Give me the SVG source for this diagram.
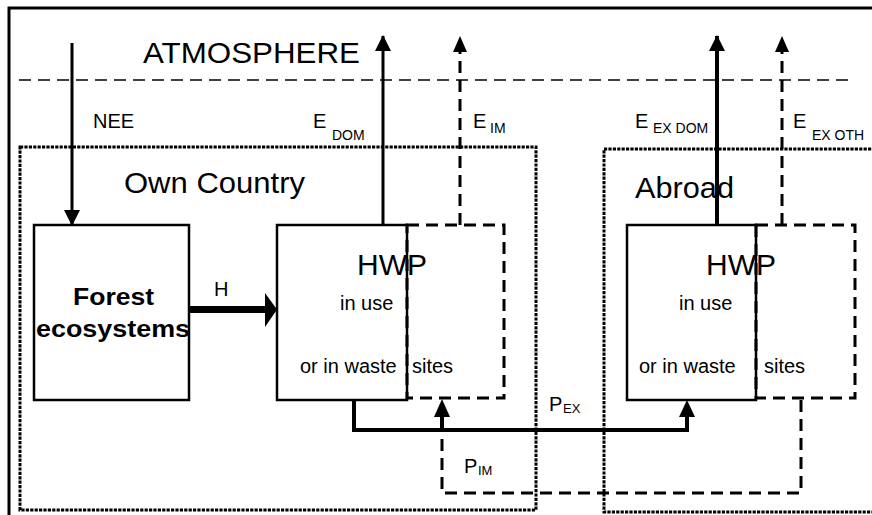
<svg xmlns="http://www.w3.org/2000/svg" width="872" height="515" viewBox="0 0 872 515">
<style>
text{font-family:"Liberation Sans",Arial,sans-serif;fill:#000}
.big{font-size:30px}
.lbl{font-size:20px}
.sub{font-size:14px}
.sub2{font-size:13px}
.box{fill:#fff;stroke:#000;stroke-width:2.5}
.dash{fill:none;stroke:#000;stroke-width:3;stroke-dasharray:12 7}
.dot{fill:none;stroke:#000;stroke-width:3;stroke-dasharray:3.2 1.2}
.atm{fill:none;stroke:#000;stroke-width:1.5;stroke-dasharray:12 7}
.ln{fill:none;stroke:#000;stroke-width:3}
</style>
<defs>
<marker id="ah" markerWidth="16" markerHeight="16" viewBox="0 0 16 16" refX="15" refY="8" orient="auto" markerUnits="userSpaceOnUse">
<path d="M0,0 L16,8 L0,16 Z" fill="#000"/>
</marker>
</defs>
<rect width="872" height="515" fill="#fff"/>
<g id="frame">
<path d="M9,515 L9,8 L872,8" fill="none" stroke="#000" stroke-width="3"/>
<line class="atm" x1="19" y1="80" x2="848" y2="80"/>
<text class="big" x="143" y="63" textLength="217" lengthAdjust="spacingAndGlyphs">ATMOSPHERE</text>
</g>
<g id="own-country">
<rect class="dot" x="20" y="147" width="516" height="363"/>
<text class="big" x="124" y="193" textLength="181" lengthAdjust="spacingAndGlyphs">Own Country</text>
</g>
<g id="abroad">
<path class="dot" d="M880,149 L604,149 L604,512 L880,512"/>
<text class="big" x="635" y="198" textLength="99" lengthAdjust="spacingAndGlyphs">Abroad</text>
</g>
<g id="forest">
<rect class="box" x="34" y="225" width="155" height="175"/>
<text x="73" y="305" font-size="23" font-weight="bold" textLength="81" lengthAdjust="spacingAndGlyphs">Forest</text>
<text x="36" y="337" font-size="23" font-weight="bold" textLength="154" lengthAdjust="spacingAndGlyphs">ecosystems</text>
</g>
<g id="hwp-own">
<rect class="box" x="277" y="225" width="130" height="175"/>
<rect class="dash" x="407" y="225" width="97" height="173"/>
<text class="big" x="357" y="275">HWP</text>
<text class="lbl" x="340" y="310">in use</text>
<text class="lbl" x="300" y="373">or in waste</text>
<text class="lbl" x="412" y="373">sites</text>
</g>
<g id="hwp-abroad">
<rect class="box" x="627" y="225" width="129" height="175"/>
<rect class="dash" x="756" y="225" width="99" height="173"/>
<text class="big" x="706" y="275">HWP</text>
<text class="lbl" x="679" y="310">in use</text>
<text class="lbl" x="639" y="373">or in waste</text>
<text class="lbl" x="764" y="373">sites</text>
</g>
<g id="connectors">
<line class="ln" x1="72" y1="43" x2="72" y2="225" marker-end="url(#ah)"/>
<line class="ln" x1="383" y1="225" x2="383" y2="36" marker-end="url(#ah)"/>
<line class="dash" x1="460" y1="225" x2="460" y2="52"/>
<path d="M453,52 L460,36 L467,52 Z"/>
<line x1="717" y1="225" x2="717" y2="36" stroke="#000" stroke-width="4" marker-end="url(#ah)"/>
<line class="dash" x1="782" y1="225" x2="782" y2="52"/>
<path d="M775,52 L782,36 L789,52 Z"/>
<line x1="189" y1="309.5" x2="266" y2="309.5" stroke="#000" stroke-width="7"/>
<path d="M265,293 L277,309.5 L265,327 Z"/>
<path d="M354,400 L354,430 L687,430 L687,416" fill="none" stroke="#000" stroke-width="4"/>
<path d="M679,417 L687,400 L695,417 Z"/>
<path class="dash" d="M801,400 L801,493 L442,493 L442,430"/>
<line x1="442" y1="430" x2="442" y2="415" stroke="#000" stroke-width="4"/>
<path d="M434,417 L442,399 L450,417 Z"/>
</g>
<g id="labels">
<text class="lbl" x="93" y="128">NEE</text>
<text class="lbl" x="313" y="128">E</text><text class="sub" x="332" y="140">DOM</text>
<text class="lbl" x="473" y="128">E</text><text class="sub" x="490" y="133">IM</text>
<text class="lbl" x="635" y="128">E</text><text class="sub" x="653" y="133">EX DOM</text>
<text class="lbl" x="793" y="128">E</text><text class="sub" x="812" y="140">EX OTH</text>
<text class="lbl" x="214" y="296">H</text>
<text class="lbl" x="549" y="411">P</text><text class="sub2" x="563" y="413">EX</text>
<text class="lbl" x="464" y="473">P</text><text class="sub2" x="478" y="475">IM</text>
</g>
</svg>
